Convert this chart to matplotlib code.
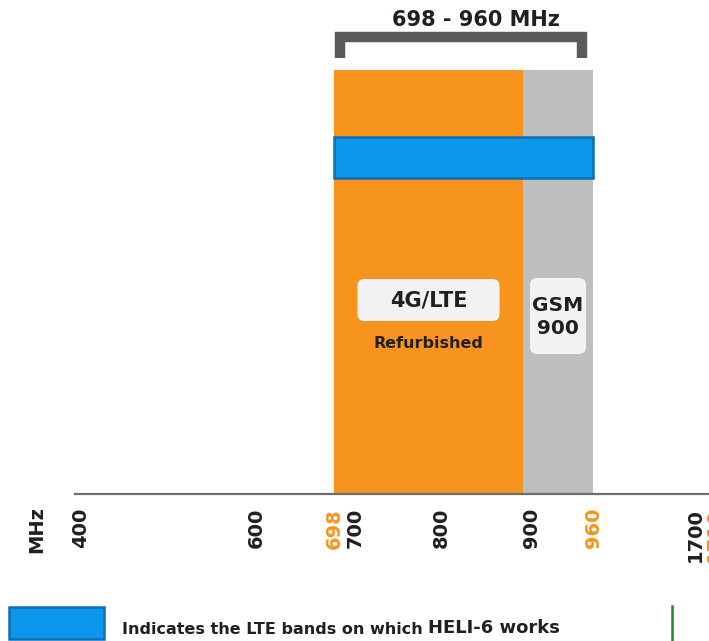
import numpy as np
import matplotlib
matplotlib.use("Agg")
import matplotlib.pyplot as plt
import matplotlib.transforms as mtransforms
from matplotlib.patches import FancyBboxPatch, Rectangle

# ---- data -------------------------------------------------------------
band_names = ["4G/LTE", "GSM\n900"]
band_lo = [698, 900]
band_hi = [900, 960]
band_colors = ["#f7941d", "#bcbec0"]

lte_lo, lte_hi = 698, 960          # range HELI-6 covers
tick_values = [400, 600, 698, 700, 800, 900, 960, 1700, 1710]
tick_labels = ["400", "600", "698", "700", "800", "900", "960", "1700", "1710"]
highlight_ticks = [698, 960, 1710]

# piecewise axis: frequency anchors and their relative screen positions
scale_freq = [380, 400, 600, 698, 700, 800, 900, 960, 1700, 1710, 1720]
scale_pos = [75, 81, 256, 334, 355, 441, 523, 593, 695, 714, 725]

ORANGE = "#f7941d"
BLUE = "#0a97ec"
BLUE_EDGE = "#0d6fb6"
DARK = "#231f20"
BRACKET = "#58595b"
FONT = "DejaVu Sans"

W, H = 709, 641
fig = plt.figure(figsize=(W / 100, H / 100), dpi=100)

# main band axes (x = frequency on a piecewise scale, y = layout height)
axis_y = 494
ax_left, ax_right = 75, 725
ax = fig.add_axes([ax_left / W, (H - axis_y) / H, (ax_right - ax_left) / W, axis_y / H])
ax.set_xscale("function", functions=(lambda x: np.interp(x, scale_freq, scale_pos),
                                     lambda p: np.interp(p, scale_pos, scale_freq)))
ax.set_xlim(380, 1720)
ax.set_ylim(0, axis_y)
ax.patch.set_alpha(0)

band_top = axis_y - 70
for lo, hi, c in zip(band_lo, band_hi, band_colors):
    ax.bar(lo, band_top, width=hi - lo, align="edge", color=c, linewidth=0, zorder=1)

# HELI-6 LTE coverage strip
ax.bar(lte_lo, 41, width=lte_hi - lte_lo, bottom=axis_y - 178, align="edge",
       color=BLUE, edgecolor=BLUE_EDGE, linewidth=1.8, zorder=3)

for s in ["top", "left", "right"]:
    ax.spines[s].set_visible(False)
ax.spines["bottom"].set_color("#6d6e71")
ax.spines["bottom"].set_linewidth(1.6)
ax.set_yticks([])
ax.set_xticks(tick_values)
ax.set_xticklabels(tick_labels, rotation=90, fontsize=14, fontweight="bold",
                   family=FONT, color=DARK)
ax.tick_params(axis="x", length=0, pad=10)
for lbl, v in zip(ax.get_xticklabels(), tick_values):
    if v in highlight_ticks:
        lbl.set_color(ORANGE)
    if v == 900:
        # nudge the 900 label clear of the band boundary
        lbl.set_transform(lbl.get_transform() +
                          mtransforms.ScaledTranslation(9 / 100, 0, fig.dpi_scale_trans))

# overlay in pixel coordinates for annotations
deco = fig.add_axes([0, 0, 1, 1])
deco.set_xlim(0, W)
deco.set_ylim(H, 0)
deco.axis("off")
deco.patch.set_alpha(0)


def px(freq):
    return ax.transData.transform((freq, 0))[0]


# bracket over the covered range
bx0, bx1 = px(lte_lo) + 5.5, px(lte_hi) - 11
deco.plot([bx0, bx0, bx1, bx1], [58, 37, 37, 58], color=BRACKET, lw=7.5,
          solid_joinstyle="miter", solid_capstyle="butt")
deco.text((bx0 + bx1) / 2 + 15, 20, f"{lte_lo} - {lte_hi} MHz", ha="center", va="center",
          fontsize=15, fontweight="bold", family=FONT, color=DARK)

# band labels in rounded boxes
c_lte = (px(band_lo[0]) + px(band_hi[0])) / 2
c_gsm = (px(band_lo[1]) + px(band_hi[1])) / 2
deco.add_patch(FancyBboxPatch((c_lte - 68, 282), 136, 36,
                              boxstyle="round,pad=3,rounding_size=7",
                              fc="#f2f2f4", ec="none", zorder=4))
deco.text(c_lte, 301, band_names[0], ha="center", va="center", fontsize=15,
          fontweight="bold", family=FONT, color=DARK, zorder=5)
deco.text(c_lte, 343, "Refurbished", ha="center", va="center", fontsize=11.5,
          fontweight="bold", family=FONT, color=DARK, zorder=5)
deco.add_patch(FancyBboxPatch((c_gsm - 25, 281), 50, 70,
                              boxstyle="round,pad=3,rounding_size=7",
                              fc="#f2f2f4", ec="none", zorder=4))
deco.text(c_gsm, 317, band_names[1], ha="center", va="center", fontsize=14.5,
          fontweight="bold", family=FONT, color=DARK, linespacing=1.25, zorder=5)

# unit label
deco.text(37, 530, "MHz", rotation=90, ha="center", va="center", fontsize=14,
          fontweight="bold", family=FONT, color=DARK)

# legend row
deco.add_patch(Rectangle((9, 607), 95, 32, fc=BLUE, ec=BLUE_EDGE, lw=1.8))
t1 = deco.text(122, 634, "Indicates the LTE bands on which ", ha="left", va="baseline",
               fontsize=11.5, fontweight="bold", family=FONT, color=DARK)
deco.annotate("HELI-6 works", xy=(1, 0), xycoords=t1, ha="left", va="bottom",
              fontsize=13, fontweight="bold", family=FONT, color=DARK)
deco.plot([672, 672], [606, 641], color="#1a8c1a", lw=1.8)

fig.savefig("out.png", dpi=100)
